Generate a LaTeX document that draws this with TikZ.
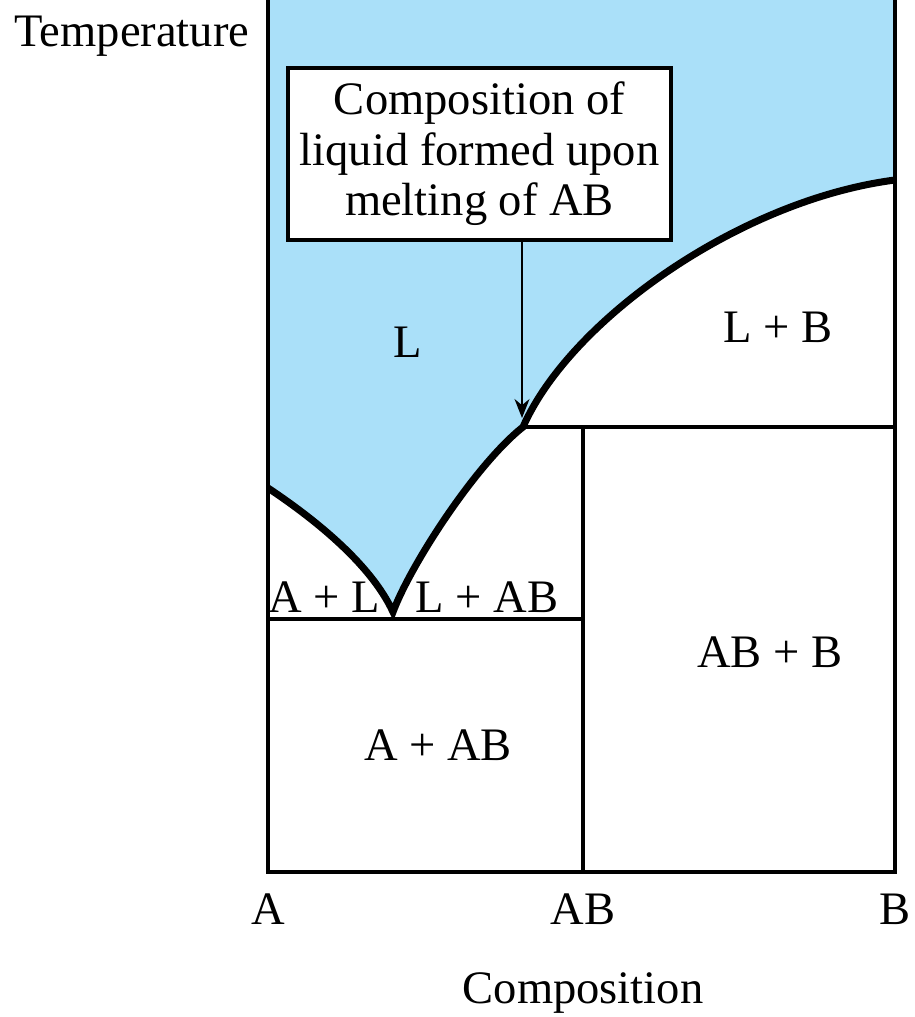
\documentclass[tikz,border=0pt]{standalone}
\usepackage{fontspec}
\setmainfont{Liberation Serif}
\usetikzlibrary{arrows.meta}
\definecolor{liqblue}{RGB}{170,224,249}
\begin{document}
\begin{tikzpicture}[x=0.02cm, y=-0.02cm, font=\fontsize{26.5}{28.7}\selectfont,
  frame/.style={line width=2.4pt},
  tie/.style={line width=2pt},
  liquidus/.style={line width=4pt, line join=miter},
  region/.style={anchor=base, inner sep=0pt}]
  % AB melts incongruently: the liquidus runs from A down to the eutectic, up to the
  % peritectic point and on to B; the blue is all liquid above it
  \useasboundingbox (0,0) rectangle (915,1017);
  \fill[liqblue] (268,488) .. controls (310,516) and (370,562) .. (393,612)
    .. controls (410,566) and (475,465) .. (523,427)
    .. controls (570,320) and (740,200) .. (895,180)
    -- (895,0) -- (268,0) -- cycle;
  \draw[tie] (268,619) -- (583,619);
  \draw[tie] (583,427) -- (583,872);
  \draw[tie] (523,427) -- (895,427);
  \draw[frame] (268,0) -- (268,872) -- (895,872) -- (895,0);
  \draw[liquidus] (268,488) .. controls (310,516) and (370,562) .. (393,612)
    .. controls (410,566) and (475,465) .. (523,427)
    .. controls (570,320) and (740,200) .. (895,180);
  % note box and its pointer to the peritectic liquid
  \node[draw, frame, fill=white, minimum width=7.66cm, minimum height=3.44cm, align=center, inner sep=0pt]
    (note) at (479.5,154) {Composition of\\liquid formed upon\\melting of AB};
  \coordinate (meltpt) at (522,418);
  \draw[line width=0.9pt, -{Stealth[length=0.38cm,width=0.3cm]}] (meltpt |- note.south) -- (meltpt);
  % phase fields
  \node[region] (temp) at (132,47) {Temperature};
  \node[region] (liq) at (408,357) {L};
  \node[region] (liqB) at (778,342) {L + B};
  \node[region] (solA) at (324,612) {A + L};
  \node[region] (liqAB) at (487,612) {L + AB};
  \node[region] (abB) at (770,667) {AB + B};
  \node[region] (aAB) at (438,760) {A + AB};
  % composition axis
  \node[region] (compA) at (268,924) {A};
  \node[region] (compAB) at (583,924) {AB};
  \node[region] (compB) at (895,924) {B};
  \node[region] (comp) at (583,1003) {Composition};
\end{tikzpicture}
\end{document}
